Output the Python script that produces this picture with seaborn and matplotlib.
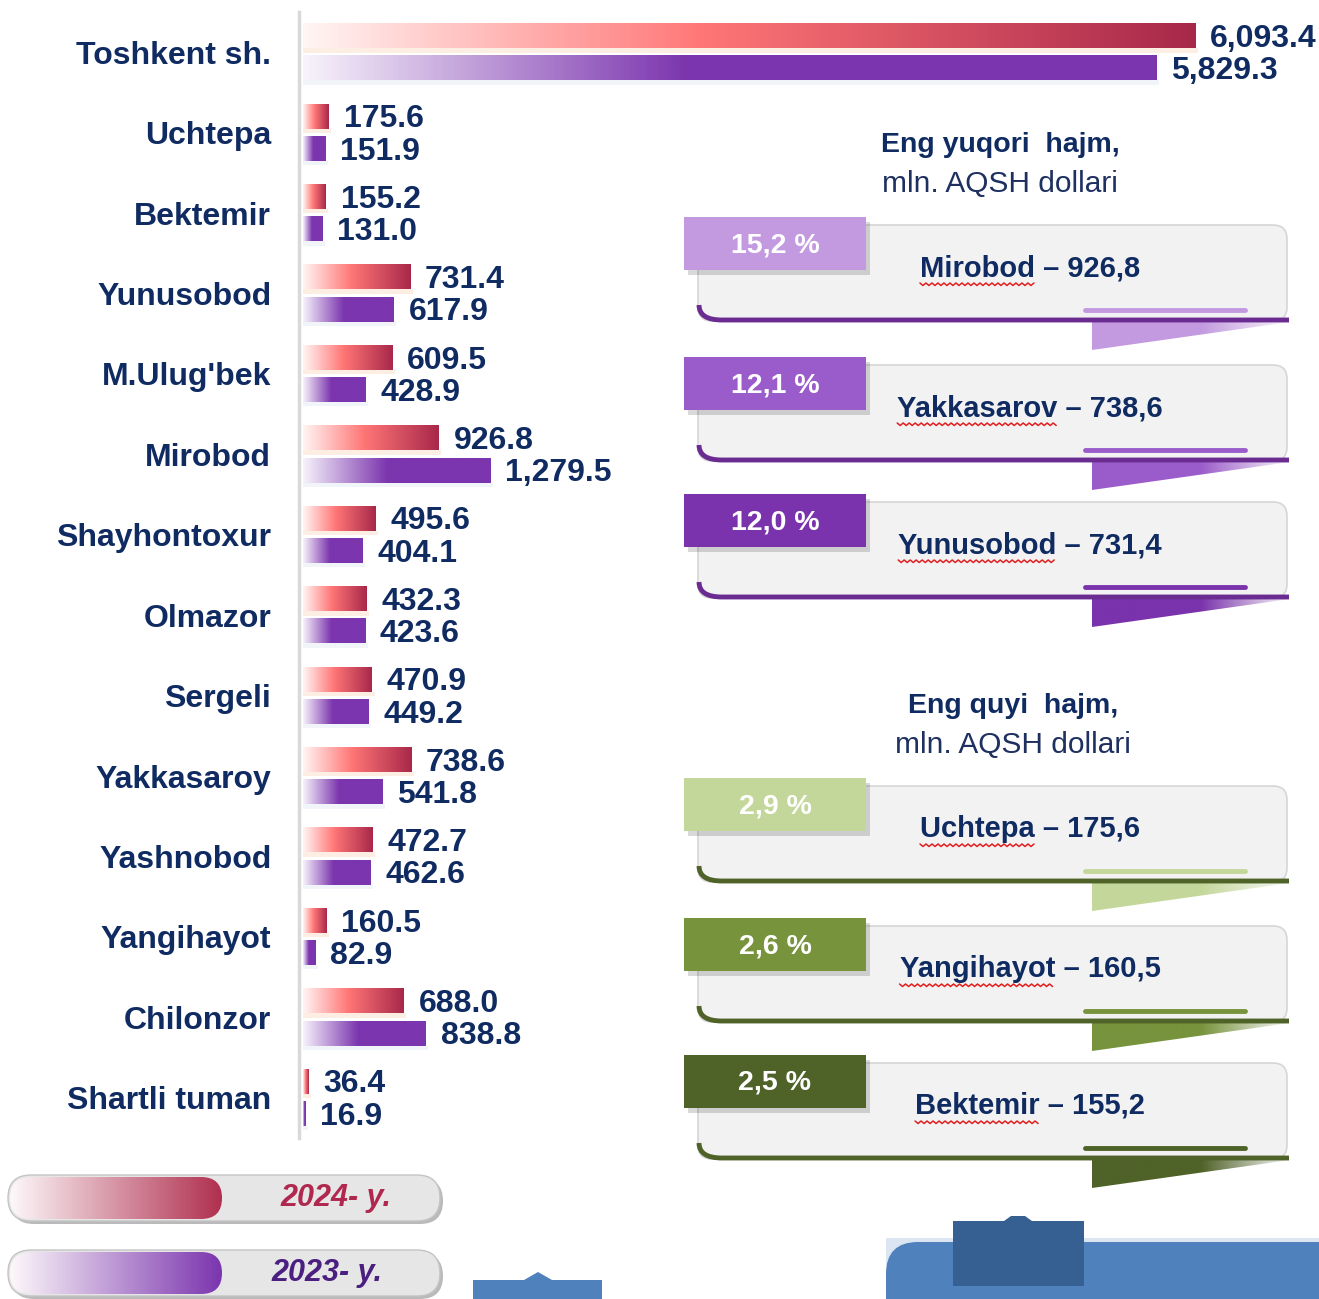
import numpy as np
import pandas as pd
import seaborn as sns
import matplotlib.pyplot as plt
from matplotlib.colors import LinearSegmentedColormap
from matplotlib.patches import Rectangle, FancyBboxPatch, Polygon, PathPatch
from matplotlib.path import Path

# Export volume by district, mln. USD
districts = ["Toshkent sh.", "Uchtepa", "Bektemir", "Yunusobod", "M.Ulug'bek", "Mirobod",
             "Shayhontoxur", "Olmazor", "Sergeli", "Yakkasaroy", "Yashnobod", "Yangihayot",
             "Chilonzor", "Shartli tuman"]
vals_2024 = [6093.4, 175.6, 155.2, 731.4, 609.5, 926.8, 495.6, 432.3, 470.9, 738.6, 472.7, 160.5, 688.0, 36.4]
vals_2023 = [5829.3, 151.9, 131.0, 617.9, 428.9, 1279.5, 404.1, 423.6, 449.2, 541.8, 462.6, 82.9, 838.8, 16.9]
years = ["2024", "2023"]
legend_labels = ["2024- y.", "2023- y."]

top_names = ["Mirobod", "Yakkasarov", "Yunusobod"]
top_values = ["926,8", "738,6", "731,4"]
top_shares = ["15,2 %", "12,1 %", "12,0 %"]
low_names = ["Uchtepa", "Yangihayot", "Bektemir"]
low_values = ["175,6", "160,5", "155,2"]
low_shares = ["2,9 %", "2,6 %", "2,5 %"]

sns.set_theme(style="white")
plt.rcParams['font.family'] = ['Liberation Sans', 'DejaVu Sans']
navy = '#0f2b61'
W, H = 1319, 1299

df = pd.DataFrame({
    'district': districts * 2,
    'value': vals_2024 + vals_2023,
    'year': [years[0]] * len(districts) + [years[1]] * len(districts),
})

fig = plt.figure(figsize=(W / 100, H / 100), dpi=100)
ax = fig.add_axes([299 / W, 1 - 1138 / H, 1000 / W, 1126 / H])
sns.barplot(data=df, x='value', y='district', hue='year', hue_order=years, orient='h',
            gap=0.25, errorbar=None, legend=False, ax=ax)

# gradient fills in place of flat bars
bar_cmaps = {
    "2024": LinearSegmentedColormap.from_list('r24', [(0, '#fff5f3'), (0.45, '#ff7676'), (1, '#a8284a')]),
    "2023": LinearSegmentedColormap.from_list('p23', [(0, '#f7f2fb'), (0.45, '#7b35ae'), (1, '#7b35ae')]),
}
glow = {"2024": '#fdeee3', "2023": '#f1f4f9'}
grad = np.linspace(0, 1, 256).reshape(1, -1)
for year, cont in zip(years, ax.containers):
    for bar in cont:
        x, y, w, h = bar.get_x(), bar.get_y(), bar.get_width(), bar.get_height()
        bar.set_facecolor('none')
        bar.set_edgecolor('none')
        ax.add_patch(Rectangle((x, y + h), w + 20, h * 0.18, fc=glow[year], ec='none', zorder=1.5))
        ax.imshow(grad, cmap=bar_cmaps[year], extent=[x, x + w, y + h, y], aspect='auto',
                  interpolation='bilinear', zorder=2)
        ax.annotate(f"{w:,.1f}", (x + w, y + h / 2), xytext=(11, -2), textcoords='offset points',
                    va='center', ha='left', fontsize=23, fontweight='bold', color=navy,
                    annotation_clip=False)

ax.set_xlim(-25, 6806)
ax.set_ylim(13.5, -0.5)
ax.set_xlabel('')
ax.set_ylabel('')
ax.set_xticks([])
ax.tick_params(axis='y', length=0, pad=20, labelsize=23, labelcolor=navy)
for lbl in ax.get_yticklabels():
    lbl.set_fontweight('bold')
for s in ['top', 'right', 'bottom']:
    ax.spines[s].set_visible(False)
ax.spines['left'].set_color('#d9d9d9')
ax.spines['left'].set_linewidth(2.5)

# overlay in pixel coordinates for the infographic parts
deco = fig.add_axes([0, 0, 1, 1])


def ribbon(y0, share, name, value, tab_color, line_color):
    box = FancyBboxPatch((698, y0 + 8), 589, 96, boxstyle="round,pad=0,rounding_size=14",
                         fc='#f2f2f2', ec='#d6d6d6', lw=1.2, zorder=2)
    deco.add_patch(box)
    tri = Polygon([(1092, y0 + 105), (1290, y0 + 105), (1092, y0 + 133)], closed=True,
                  fc='none', ec='none')
    deco.add_patch(tri)
    fade = LinearSegmentedColormap.from_list('f', [(0, tab_color), (0.55, tab_color), (1, '#f8f8f8')])
    im = deco.imshow(grad, cmap=fade, extent=[1092, 1290, y0 + 133, y0 + 105], aspect='auto', zorder=2)
    im.set_clip_path(tri)
    curl = Path([(699, y0 + 88), (699, y0 + 103), (722, y0 + 103), (1289, y0 + 103)],
                [Path.MOVETO, Path.CURVE3, Path.CURVE3, Path.LINETO])
    deco.add_patch(PathPatch(curl, fc='none', ec=line_color, lw=3.5, zorder=3))
    deco.plot([1085, 1245], [y0 + 93, y0 + 93], color=tab_color, lw=3.5, solid_capstyle='round', zorder=3)
    deco.add_patch(Rectangle((688, y0 + 5), 182, 53, fc='#000000', alpha=0.15, ec='none', zorder=3))
    deco.add_patch(Rectangle((684, y0), 182, 53, fc=tab_color, ec='none', zorder=4))
    deco.text(775, y0 + 28, share, ha='center', va='center', fontsize=20.5, fontweight='bold',
              color='white', zorder=5)
    t = deco.text(1030, y0 + 51, f"{name} – {value}", ha='center', va='center', fontsize=21,
                  fontweight='bold', color=navy, zorder=5)
    return t, name


deco.text(1000, 145, "Eng yuqori  hajm,", ha='center', va='center', fontsize=20.5, fontweight='bold', color=navy)
deco.text(1000, 184, "mln. AQSH dollari", ha='center', va='center', fontsize=21.5, color='#1e3060')
deco.text(1013, 706, "Eng quyi  hajm,", ha='center', va='center', fontsize=20.5, fontweight='bold', color=navy)
deco.text(1013, 745, "mln. AQSH dollari", ha='center', va='center', fontsize=21.5, color='#1e3060')

texts = []
top_tabs = ['#c39ae0', '#9b5ccb', '#7a33ac']
for y0, s, n, v, c in zip([217, 357, 494], top_shares, top_names, top_values, top_tabs):
    texts.append(ribbon(y0, s, n, v, c, '#6a2c91'))
low_tabs = ['#c4d79b', '#77933c', '#4f6228']
for y0, s, n, v, c in zip([778, 918, 1055], low_shares, low_names, low_values, low_tabs):
    texts.append(ribbon(y0, s, n, v, c, '#4f6228'))

# legend pills
pill_colors = ['#b0304f', '#7b35ae']
pill_text = ['#b0284f', '#4a1f80']
for y0, lab, c, tc, tx in zip([1175, 1250], legend_labels, pill_colors, pill_text, [336, 327]):
    deco.add_patch(FancyBboxPatch((11, y0 + 3), 432, 46, boxstyle="round,pad=0,rounding_size=23",
                                  fc='#8c8c8c', ec='none', alpha=0.6))
    deco.add_patch(FancyBboxPatch((8, y0), 432, 46, boxstyle="round,pad=0,rounding_size=23",
                                  fc='#e6e6e6', ec='#c4c4c4', lw=1))
    inner = FancyBboxPatch((10, y0 + 2), 212, 42, boxstyle="round,pad=0,rounding_size=21",
                           fc='none', ec='none')
    deco.add_patch(inner)
    pc = LinearSegmentedColormap.from_list('pc', ['#fdf8fa', c])
    im = deco.imshow(grad, cmap=pc, extent=[10, 222, y0 + 44, y0 + 2], aspect='auto', zorder=2)
    im.set_clip_path(inner)
    deco.text(tx, y0 + 23, lab, ha='center', va='center', fontsize=22, fontweight='bold',
              style='italic', color=tc, zorder=3)

# blue shapes at the bottom
deco.add_patch(Rectangle((473, 1280), 129, 25, fc='#4f81bd', ec='none'))
deco.add_patch(Polygon([(524, 1280), (538, 1272), (552, 1280)], fc='#4f81bd', ec='none'))
deco.add_patch(Rectangle((886, 1238), 440, 70, fc='#dce6f2', ec='none'))
deco.add_patch(FancyBboxPatch((886, 1242), 480, 100, boxstyle='round,pad=0,rounding_size=32',
                              fc='#4f81bd', ec='none'))
deco.add_patch(Rectangle((953, 1221), 131, 65, fc='#376092', ec='none', zorder=3))
deco.add_patch(Polygon([(1004, 1221), (1011, 1216), (1025, 1216), (1032, 1221)], fc='#376092',
                       ec='none', zorder=3))

deco.set_xlim(0, W)
deco.set_ylim(H, 0)
deco.axis('off')

# spell-check style squiggles under names
fig.canvas.draw()
r = fig.canvas.get_renderer()
for t, name in texts:
    bb = t.get_window_extent(r)
    tmp = deco.text(0, 0, name, fontsize=21, fontweight='bold')
    wn = tmp.get_window_extent(r).width
    tmp.remove()
    xs = np.arange(bb.x0, bb.x0 + wn, 3)
    ys = H - bb.y0 + 1 + 2.5 * (np.arange(len(xs)) % 2)
    deco.plot(xs, ys, color='#e02020', lw=1.1, zorder=6)

deco.set_xlim(0, W)
deco.set_ylim(H, 0)
fig.savefig('out.png', dpi=100)
